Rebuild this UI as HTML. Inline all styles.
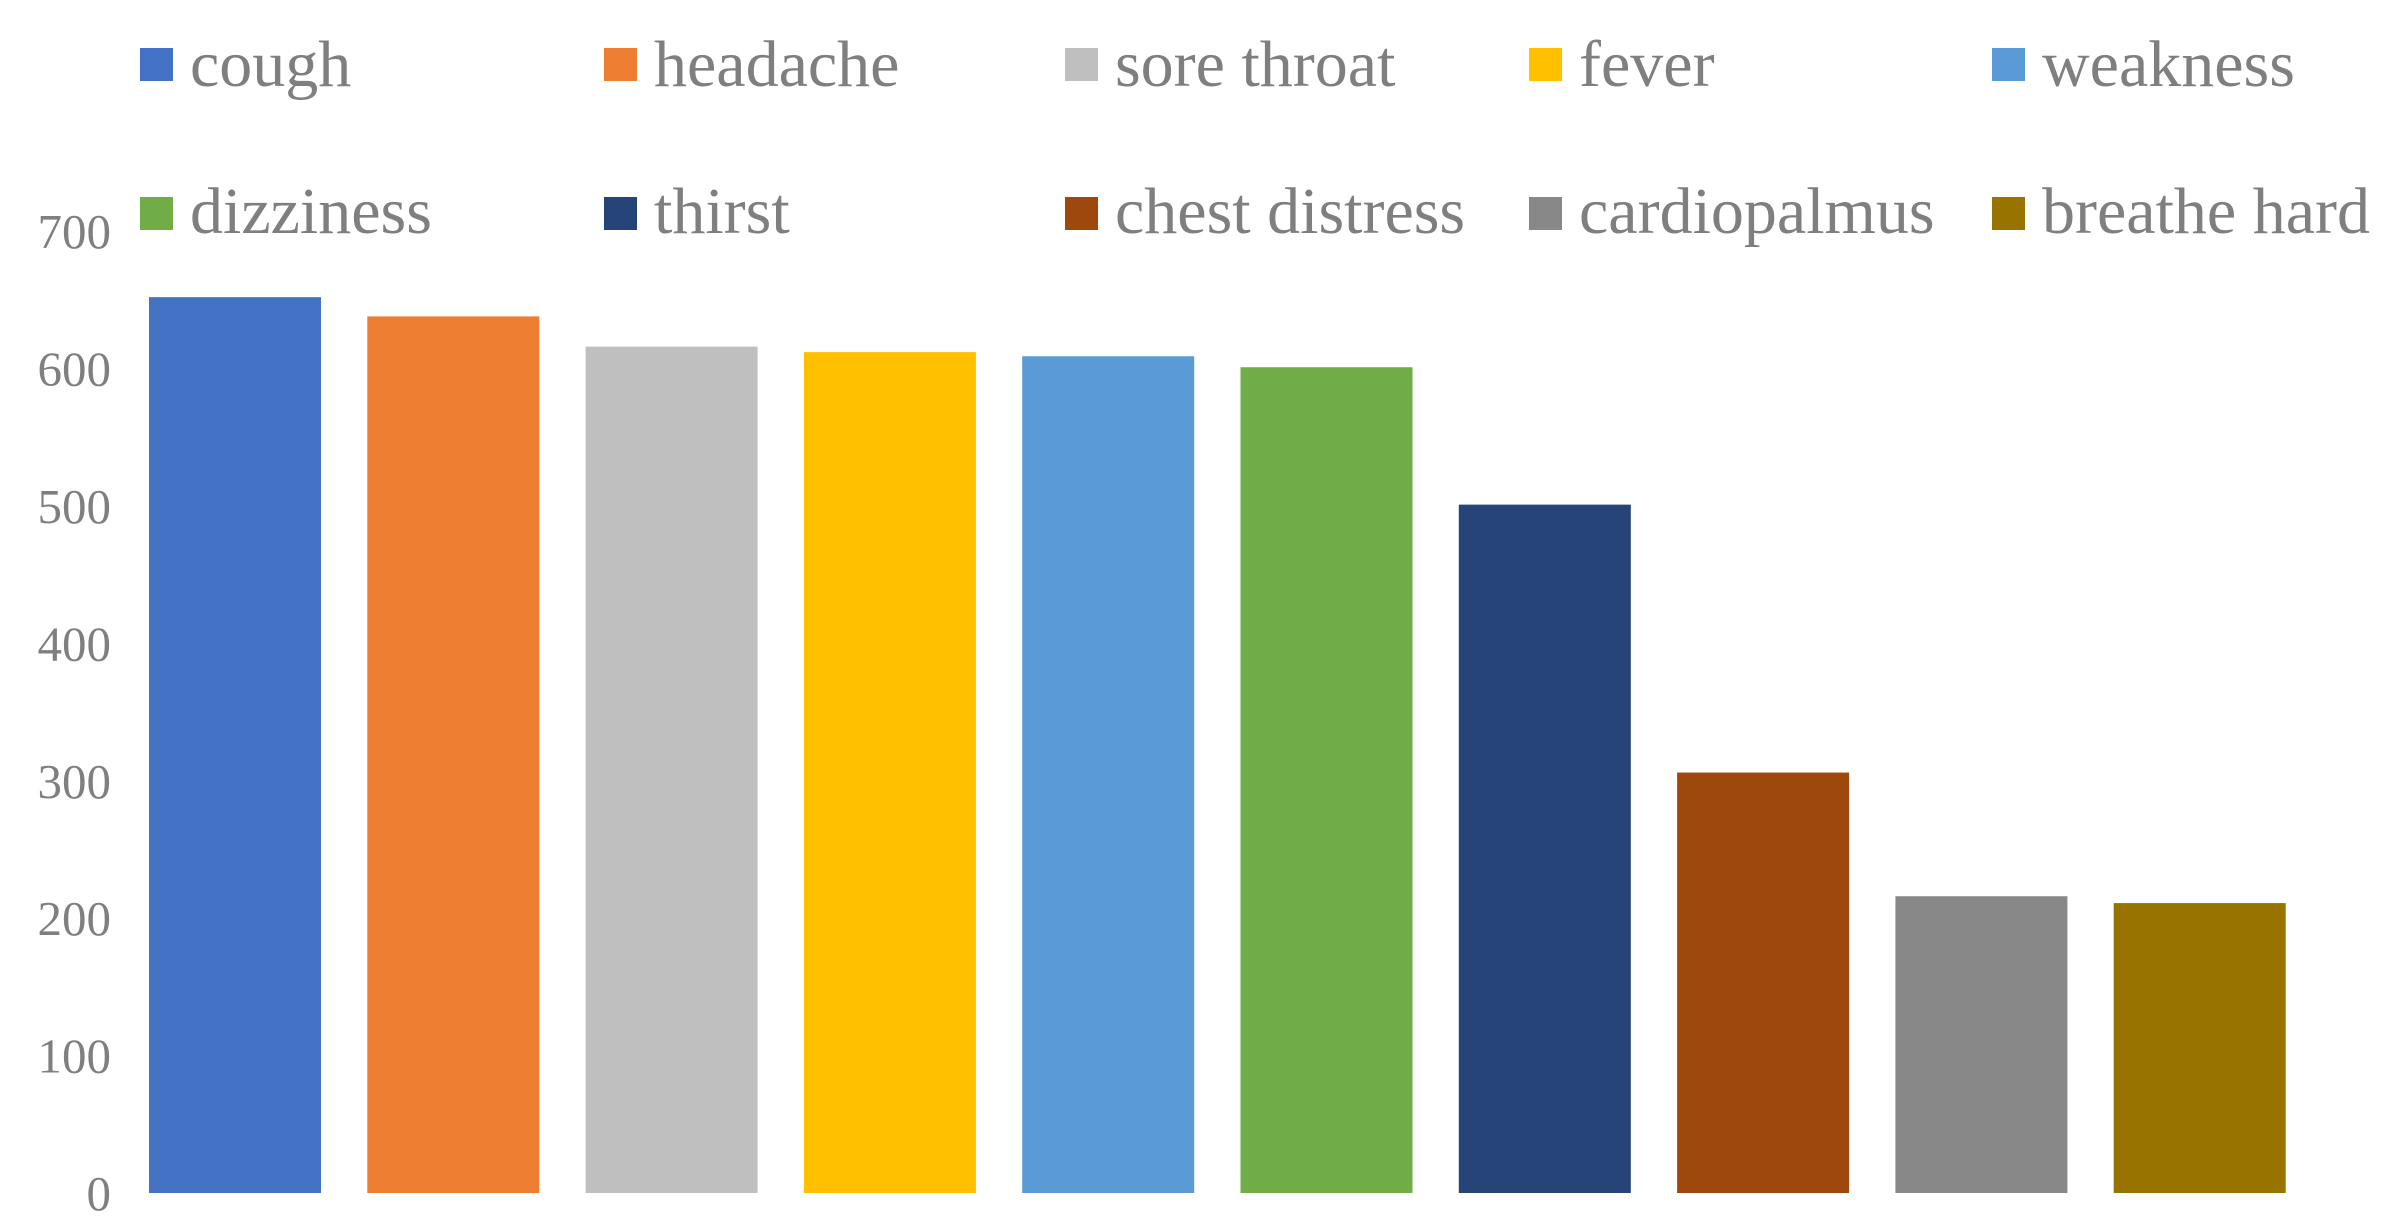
<!DOCTYPE html>
<html><head><meta charset="utf-8"><style>
html,body{margin:0;padding:0;background:#fff;width:2392px;height:1218px;overflow:hidden}
svg text{font-family:"Liberation Serif",serif;fill:#7f7f7f}
</style></head><body>
<svg id="chart" width="2392" height="1218" viewBox="0 0 2392 1218" xmlns="http://www.w3.org/2000/svg">
<g id="legend"></g>
<g id="yaxis"></g>
<g id="bars"></g>
</svg>
<script>
const categories = ["cough","headache","sore throat","fever","weakness","dizziness","thirst","chest distress","cardiopalmus","breathe hard"];
const values = [652, 638, 616, 612, 609, 601, 501, 306, 216, 211];
const colors = ["#4472c4","#ed7d31","#bfbfbf","#ffc000","#5b9bd5","#70ad47","#264478","#9e480e","#888888","#997300"];
const yTicks = [0,100,200,300,400,500,600,700];

const NS="http://www.w3.org/2000/svg";
const y0=1193, pxPerUnit=1.374;
function yScale(v){return y0 - v*pxPerUnit;}
const firstCenter=235, step=218.3, barW=172;
function xCenter(i){return firstCenter + i*step;}

const yg=document.getElementById('yaxis');
yTicks.forEach(t=>{
  const tx=document.createElementNS(NS,'text');
  tx.setAttribute('x',111);
  tx.setAttribute('y',yScale(t)+17);
  tx.setAttribute('text-anchor','end');
  tx.setAttribute('font-size','49');
  tx.textContent=t;
  
  
  yg.appendChild(tx);
});

const bg=document.getElementById('bars');
values.forEach((v,i)=>{
  const r=document.createElementNS(NS,'rect');
  r.setAttribute('x',xCenter(i)-barW/2);
  r.setAttribute('y',yScale(v));
  r.setAttribute('width',barW);
  r.setAttribute('height',y0-yScale(v));
  r.setAttribute('fill',colors[i]);
  
  
  bg.appendChild(r);
});

const lg=document.getElementById('legend');
const colX=[140,604,1065,1529,1992];
const rowY=[48,197];
const rowBase=[86,233];
categories.forEach((c,i)=>{
  const col=i%5,row=Math.floor(i/5);
  const g=document.createElementNS(NS,'g');
  
  
  const m=document.createElementNS(NS,'rect');
  m.setAttribute('x',colX[col]);
  m.setAttribute('y',rowY[row]);
  m.setAttribute('width',33);
  m.setAttribute('height',33);
  m.setAttribute('fill',colors[i]);
  
  
  const t=document.createElementNS(NS,'text');
  t.setAttribute('x',colX[col]+50);
  t.setAttribute('y',rowBase[row]);
  t.setAttribute('font-size','66');
  t.textContent=c;
  
  
  g.appendChild(m);g.appendChild(t);lg.appendChild(g);
});
</script>
</body></html>
